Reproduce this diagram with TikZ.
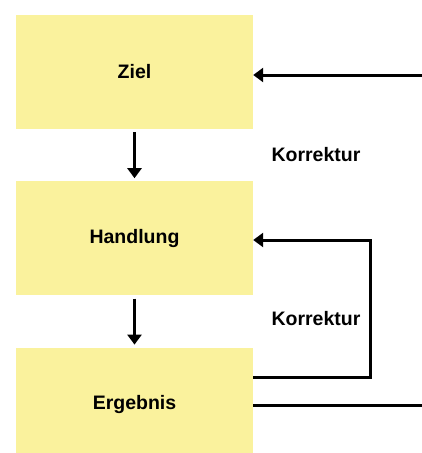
\documentclass[tikz,border=0pt]{standalone}
\usepackage{fontspec}
\setsansfont{Liberation Sans}
\usetikzlibrary{arrows.meta,positioning}
\definecolor{boxyellow}{HTML}{FAF29D}
\tikzset{
  stage/.style={rectangle,fill=boxyellow,minimum width=237pt,minimum height=114pt,
    inner sep=0pt,font=\sffamily\bfseries\fontsize{19.5}{22}\selectfont},
  flow/.style={-{Triangle[length=10pt,width=14pt]},line width=3pt,shorten >=3pt,shorten <=3pt},
  feedback/.style={line width=3pt},
  note/.style={font=\sffamily\bfseries\fontsize{19.5}{22}\selectfont}
}
\begin{document}
\begin{tikzpicture}[x=1pt,y=1pt]
  \useasboundingbox (0,0) rectangle (422,-453);
  \node[stage] (ziel) at (134.5,-72) {Ziel};
  \node[stage,below=52pt of ziel] (handlung) {Handlung};
  \node[stage,below=52pt of handlung] (ergebnis) {Ergebnis};
  \path (ziel) edge[flow] (handlung)
        (handlung) edge[flow] (ergebnis);
  % feedback loops on the right
  \coordinate (in) at (422,-75);
  \coordinate (out) at (422,-405);
  \coordinate (c1) at (370,-240);
  \coordinate (c2) at (370,-377);
  \draw[feedback,-{Triangle[length=10pt,width=14pt]}] (in) -- (in -| ziel.east);
  \draw[feedback,-{Triangle[length=10pt,width=14pt]}] (ergebnis.east |- c2) -- (c2) -- (c1) -- (c1 -| handlung.east);
  \draw[feedback] (ergebnis.east |- out) -- (out);
  \node[note] (k1) at (316,-155) {Korrektur};
  \node[note] (k2) at (316,-319) {Korrektur};
\end{tikzpicture}
\end{document}
